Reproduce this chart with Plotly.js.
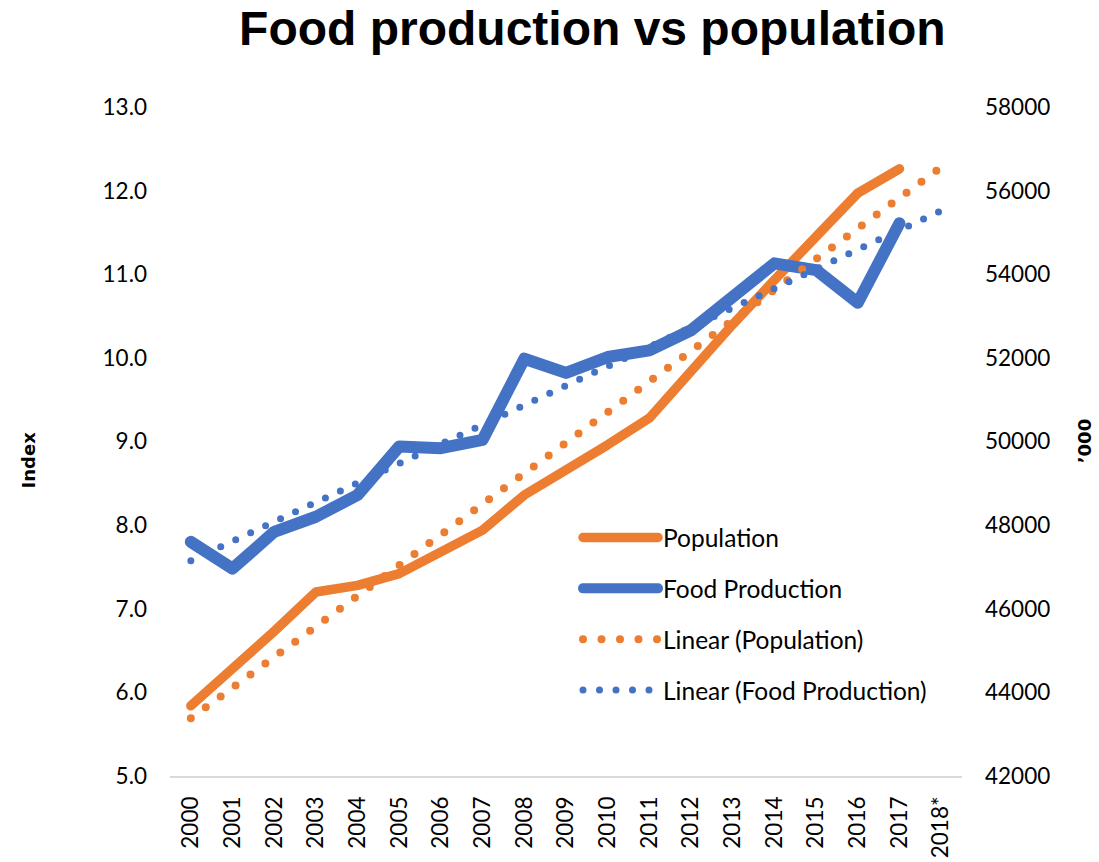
<!DOCTYPE html>
<html>
<head>
<meta charset="utf-8">
<script src="https://cdn.plot.ly/plotly-3.0.1.min.js"></script>
<style>
html,body{margin:0;padding:0;background:#fff;}
#chart{width:1099px;height:862px;}
.js-line, .legendlines path{stroke-linecap:round !important;stroke-linejoin:round !important;}
</style>
</head>
<body>
<div id="chart"></div>
<script>
// Category labels (x axis)
const years = ["2000","2001","2002","2003","2004","2005","2006","2007","2008","2009",
               "2010","2011","2012","2013","2014","2015","2016","2017","2018*"];
// Population ('000) – right axis
const population = [43680,44560,45460,46400,46560,46840,47360,47880,48720,49300,
                    49920,50560,51720,52800,53860,54940,55940,56520];
// Food production index – left axis
const foodProduction = [7.80,7.48,7.92,8.10,8.36,8.94,8.92,9.02,9.99,9.82,
                        10.01,10.09,10.33,10.74,11.13,11.05,10.66,11.61];
// Linear trend lines (values read at first and last category)
const trendYears = ["2000","2018*"];
const populationTrend = [43380,56560];
const foodTrend = [7.575,11.76];
// Tick values
const leftTicks = [5,6,7,8,9,10,11,12,13];
const rightTicks = [42000,44000,46000,48000,50000,52000,54000,56000,58000];

const ORANGE = "#ED7D31";
const BLUE = "#4472C4";
const tickFont = {family:"Lato, 'Open Sans', sans-serif", size:22.5, color:"#000"};

const data = [
  {x: years.slice(0, population.length), y: population, name: "Population",
   type: "scatter", mode: "lines", yaxis: "y", legendgroup: "a",
   line: {color: ORANGE, width: 9.5}},
  {x: years.slice(0, foodProduction.length), y: foodProduction, name: "Food Production",
   type: "scatter", mode: "lines", yaxis: "y2", legendgroup: "b",
   line: {color: BLUE, width: 12}},
  {x: trendYears, y: populationTrend, name: "Linear (Population)",
   type: "scatter", mode: "lines", yaxis: "y3", legendgroup: "c",
   line: {color: ORANGE, width: 8, dash: "0px,18.5px"}},
  {x: trendYears, y: foodTrend, name: "Linear (Food Production)",
   type: "scatter", mode: "lines", yaxis: "y4", legendgroup: "d",
   line: {color: BLUE, width: 7, dash: "0px,16.5px"}}
];

const layout = {
  width: 1099, height: 862, autosize: false,
  paper_bgcolor: "#fff", plot_bgcolor: "#fff",
  margin: {l: 170, r: 137, t: 107, b: 86, pad: 0},
  title: {text: "<b>Food production vs population</b>",
          font: {family: "'Liberation Sans', Arial, sans-serif", size: 48, color: "#000"},
          x: 0.539, xanchor: "center", xref: "container",
          y: 0.967, yanchor: "middle", yref: "container"},
  showlegend: true,
  legend: {x: (578 - 170) / 792, xanchor: "left", y: 0.39, yanchor: "top",
           itemwidth: 75,
           font: {family: "Lato, 'Open Sans', sans-serif", size: 24.5, color: "#000"},
           bgcolor: "rgba(0,0,0,0)", tracegroupgap: 16, traceorder: "grouped"},
  xaxis: {type: "category", categoryorder: "array", categoryarray: years,
          range: [-0.5, years.length - 0.5], tickvals: years,
          showline: true, linecolor: "#d9d9d9", linewidth: 1.5,
          showgrid: false, zeroline: false, ticks: "", tickangle: -90,
          ticklabelstandoff: 10, tickfont: tickFont, fixedrange: true},
  yaxis: {side: "right", range: [42000, 58000], tickvals: rightTicks,
          tickformat: "d", showgrid: false, zeroline: false, showline: false,
          ticks: "", ticklabelstandoff: 22, tickfont: tickFont},
  yaxis2: {overlaying: "y", side: "left", range: [5, 13], tickvals: leftTicks,
           tickformat: ".1f", showgrid: false, zeroline: false, showline: false,
           ticks: "", ticklabelstandoff: 22, tickfont: tickFont},
  yaxis3: {overlaying: "y", range: [42000, 58000], visible: false},
  yaxis4: {overlaying: "y", range: [5, 13], visible: false},
  annotations: [
    {text: "<b>Index</b>", xref: "paper", yref: "paper", x: -0.179, y: 0.472,
     textangle: -90, showarrow: false, xanchor: "center", yanchor: "middle",
     font: {family: "'DejaVu Sans', sans-serif", size: 18, color: "#000"}},
    {text: "<b>’000</b>", xref: "paper", yref: "paper", x: 1.155, y: 0.50,
     textangle: -90, showarrow: false, xanchor: "center", yanchor: "middle",
     font: {family: "'DejaVu Sans', sans-serif", size: 18, color: "#000"}}
  ]
};

Plotly.newPlot("chart", data, layout, {displayModeBar: false, staticPlot: true});
</script>
</body>
</html>
